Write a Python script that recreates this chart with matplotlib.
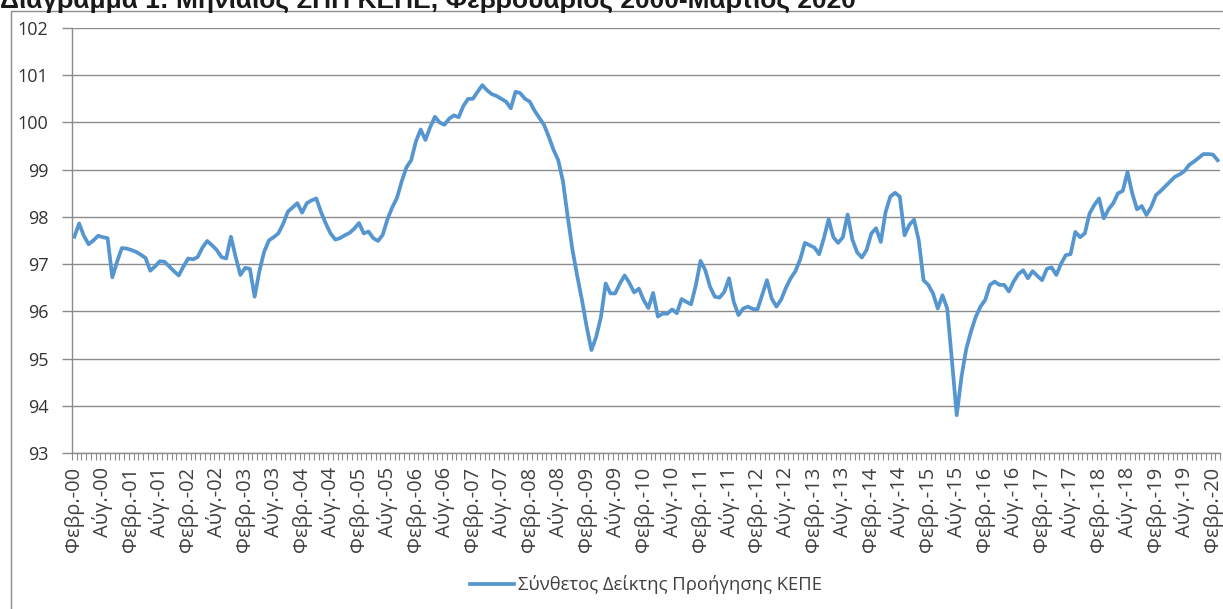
import matplotlib
matplotlib.use("Agg")
import matplotlib.pyplot as plt
from matplotlib.patches import Rectangle
from matplotlib.ticker import FixedLocator, NullFormatter

plt.rcParams['font.family'] = ['Open Sans', 'DejaVu Sans']

title = "Διάγραμμα 1: Μηνιαίος ΣΠΠ ΚΕΠΕ, Φεβρουάριος 2000-Μάρτιος 2020"
series_name = "Σύνθετος Δείκτης Προήγησης ΚΕΠΕ"

# Monthly values, Feb 2000 - Mar 2020
values = [
    # 2000 (Feb-Dec)
    97.58, 97.86, 97.60, 97.42, 97.50, 97.60, 97.57, 97.55, 96.72, 97.05, 97.34,
    # 2001
    97.33, 97.30, 97.26, 97.20, 97.13, 96.86, 96.95, 97.06, 97.05, 96.95, 96.85, 96.76,
    # 2002
    96.95, 97.12, 97.10, 97.15, 97.35, 97.49, 97.40, 97.30, 97.15, 97.12, 97.58, 97.15,
    # 2003
    96.77, 96.92, 96.90, 96.31, 96.85, 97.26, 97.50, 97.57, 97.65, 97.85, 98.11, 98.20,
    # 2004
    98.29, 98.09, 98.29, 98.35, 98.39, 98.10, 97.86, 97.65, 97.52, 97.55, 97.61, 97.66,
    # 2005
    97.75, 97.87, 97.65, 97.69, 97.55, 97.49, 97.62, 97.95, 98.20, 98.40, 98.75, 99.05,
    # 2006
    99.20, 99.60, 99.85, 99.63, 99.90, 100.12, 100.00, 99.95, 100.08, 100.15, 100.11, 100.35,
    # 2007
    100.50, 100.50, 100.65, 100.79, 100.68, 100.60, 100.56, 100.50, 100.44, 100.30, 100.65, 100.62,
    # 2008
    100.50, 100.44, 100.25, 100.10, 99.95, 99.70, 99.42, 99.20, 98.75, 98.00, 97.30, 96.75,
    # 2009
    96.24, 95.67, 95.18, 95.46, 95.88, 96.59, 96.38, 96.38, 96.59, 96.76, 96.60, 96.40,
    # 2010
    96.48, 96.24, 96.07, 96.39, 95.89, 95.95, 95.95, 96.04, 95.96, 96.26, 96.20, 96.15,
    # 2011
    96.55, 97.07, 96.87, 96.52, 96.31, 96.29, 96.41, 96.70, 96.20, 95.92, 96.06, 96.10,
    # 2012
    96.05, 96.04, 96.35, 96.66, 96.27, 96.10, 96.25, 96.50, 96.70, 96.85, 97.10, 97.45,
    # 2013
    97.40, 97.35, 97.21, 97.55, 97.95, 97.57, 97.45, 97.57, 98.05, 97.52, 97.25, 97.14,
    # 2014
    97.30, 97.65, 97.76, 97.47, 98.10, 98.43, 98.51, 98.43, 97.61, 97.83, 97.94, 97.50,
    # 2015
    96.66, 96.56, 96.38, 96.06, 96.34, 96.06, 94.95, 93.80, 94.61, 95.20, 95.57, 95.88,
    # 2016
    96.10, 96.24, 96.56, 96.63, 96.56, 96.56, 96.42, 96.63, 96.79, 96.87, 96.70, 96.85,
    # 2017
    96.75, 96.66, 96.90, 96.93, 96.77, 97.01, 97.19, 97.21, 97.68, 97.57, 97.65, 98.07,
    # 2018
    98.25, 98.39, 97.97, 98.16, 98.29, 98.50, 98.55, 98.95, 98.50, 98.16, 98.23, 98.04,
    # 2019
    98.21, 98.46, 98.55, 98.65, 98.75, 98.85, 98.90, 98.97, 99.10, 99.17, 99.25, 99.33,
    # 2020 (Jan-Mar)
    99.33, 99.32, 99.20,
]

month_abbr = {2: "Φεβρ.", 8: "Αύγ."}
n = len(values)
x = list(range(n))
label_pos = list(range(0, n, 6))
tick_labels = []
for p in label_pos:
    m = (1 + p) % 12 + 1
    yr = 2000 + (1 + p) // 12
    tick_labels.append(f"{month_abbr[m]}-{yr % 100:02d}")

W, H = 1223, 609
fig = plt.figure(figsize=(W / 100, H / 100), dpi=100)
fig.patch.set_facecolor("white")

# outer chart border
fig.patches.append(Rectangle((11 / W, -0.1), 1.2, (H - 11) / H + 0.1,
                             transform=fig.transFigure, fill=False,
                             edgecolor="#8c8c8c", linewidth=1.0))

fig.text(0.0, 1 - 8 / H, title, ha="left", va="baseline",
         fontsize=19, fontweight="bold", color="#1a1a1a",
         family=["Liberation Sans", "DejaVu Sans"])

ax = fig.add_axes([72 / W, (H - 453) / H, (1220 - 72) / W, (453 - 28) / H])
ax.plot(x, values, color="#5596d0", linewidth=2.7, solid_joinstyle="round",
        label=series_name)

ax.set_xlim(-0.5, n - 0.5)
ax.set_ylim(93, 102)
ax.set_yticks(range(93, 103))
ax.yaxis.grid(True, color="#8c8c8c", linewidth=1.0)
ax.set_axisbelow(True)

ax.set_xticks(label_pos)
ax.set_xticklabels(tick_labels, rotation=90, fontsize=14.5, color="#404040")
ax.xaxis.set_minor_locator(FixedLocator([i - 0.5 for i in range(n + 1)]))
ax.xaxis.set_minor_formatter(NullFormatter())
ax.tick_params(axis="x", which="major", length=0, pad=10)
ax.tick_params(axis="x", which="minor", length=5, color="#8c8c8c", width=0.8, direction="out")
ax.tick_params(axis="y", which="major", length=7, color="#8c8c8c", width=1.0,
               labelsize=13, labelcolor="#333333", pad=10)

for s in ["top", "right"]:
    ax.spines[s].set_visible(False)
for s in ["left", "bottom"]:
    ax.spines[s].set_color("#8c8c8c")
    ax.spines[s].set_linewidth(1.0)

leg = ax.legend(loc="center", bbox_to_anchor=(0.5, -(585 - 453) / (453 - 28)),
                frameon=False, fontsize=13.3, handlelength=2.4, handletextpad=0.2,
                labelcolor="#404040")

fig.savefig("out.png", dpi=100, facecolor="white")
